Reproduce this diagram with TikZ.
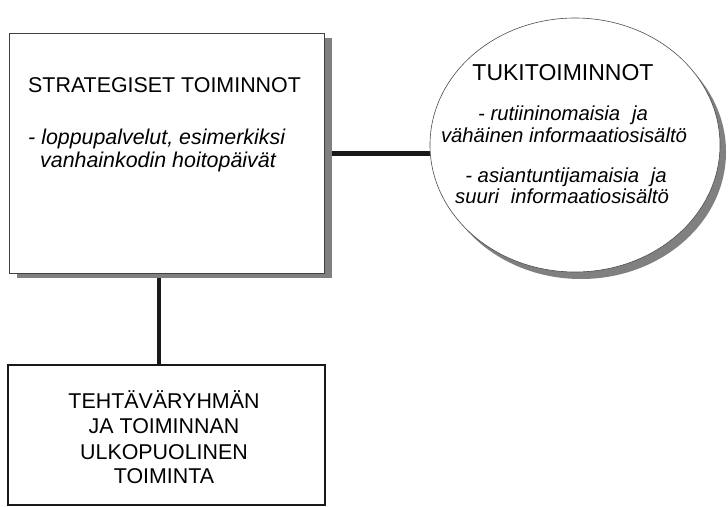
\documentclass[tikz,border=0pt]{standalone}
\usepackage{fontspec}
\setmainfont{Liberation Sans}
\usetikzlibrary{shapes.geometric,shadows,backgrounds}
\begin{document}
\begin{tikzpicture}[x=1pt,y=-1pt,
  boxshadow/.style={drop shadow={shadow xshift=8pt, shadow yshift=-5pt, fill=black!50, opacity=1}},
  ellshadow/.style={drop shadow={shadow xshift=6pt, shadow yshift=-7pt, fill=black!50, opacity=1}},
  topbox/.style={rectangle, draw=black!75, line width=0.8pt, fill=white, inner sep=0pt, boxshadow},
  oval/.style={ellipse, draw=black!70, line width=0.6pt, fill=white, inner sep=0pt, ellshadow},
  lowbox/.style={rectangle, draw=black!90, line width=2.2pt, fill=white, inner sep=0pt},
  conn/.style={line width=5pt, draw=black!90},
  reg/.style={inner sep=0pt, font=\fontsize{21.4}{23}\selectfont},
  ita/.style={inner sep=0pt, font=\fontsize{21.4}{23}\selectfont\itshape},
  ehead/.style={inner sep=0pt, font=\fontsize{23}{25}\selectfont},
  eita/.style={inner sep=0pt, font=\fontsize{20.3}{22}\selectfont\itshape},
]
\useasboundingbox (0,0) rectangle (728,506);

\node[topbox, minimum width=315pt, minimum height=240pt] (strat) at (166.5,153) {};
\node[oval, minimum width=290pt, minimum height=254pt] (tuki) at (575,145) {};
\node[lowbox, minimum width=317pt, minimum height=140pt] (ulko) at (166.5,435) {};

\begin{scope}[on background layer]
\draw[conn] (strat.east) -- (tuki.west |- strat.east);
\draw[conn, line width=4.5pt] ([xshift=-7.5pt]strat.south) -- ([xshift=-7.5pt]ulko.north);
\end{scope}

\node[reg, anchor=base west] (sh) at (28,92) {STRATEGISET TOIMINNOT};
\node[ita, anchor=base west] (s1) at (28,144) {- loppupalvelut, esimerkiksi};
\node[ita, anchor=base west] (s2) at (40,167) {vanhainkodin hoitopäivät};

\node[ehead, anchor=base] (th) at (563,80) {TUKITOIMINNOT};
\node[eita, anchor=base] (t1) at (563,120) {- rutiininomaisia\hspace{0.3em} ja};
\node[eita, anchor=base] (t2) at (564,142) {vähäinen informaatiosisältö};
\node[eita, anchor=base] (t3) at (566,182) {- asiantuntijamaisia\hspace{0.3em} ja};
\node[eita, anchor=base] (t4) at (562,203) {suuri\hspace{0.3em} informaatiosisältö};

\node[reg, anchor=base] (u1) at (164,408) {TEHTÄVÄRYHMÄN};
\node[reg, anchor=base] (u2) at (164,433) {JA TOIMINNAN};
\node[reg, anchor=base] (u3) at (164,459) {ULKOPUOLINEN};
\node[reg, anchor=base] (u4) at (164,483) {TOIMINTA};
\end{tikzpicture}
\end{document}
